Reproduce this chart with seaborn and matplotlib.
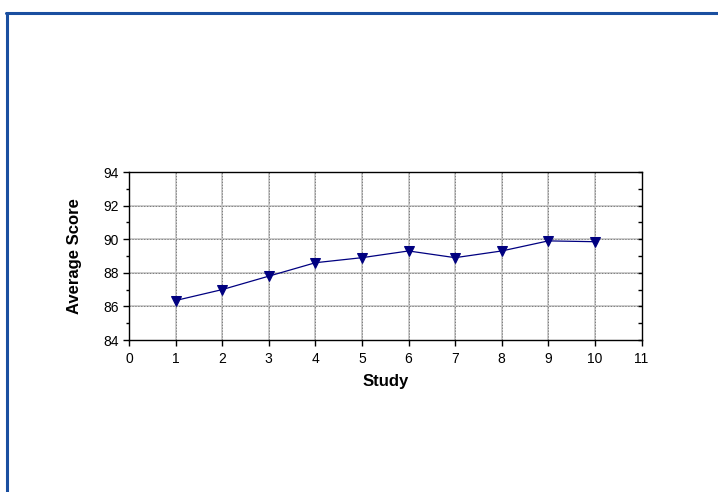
import matplotlib
matplotlib.use("Agg")
import pandas as pd
import seaborn as sns
import matplotlib.pyplot as plt
from matplotlib.lines import Line2D
from matplotlib.ticker import MultipleLocator

studies = [1, 2, 3, 4, 5, 6, 7, 8, 9, 10]
avg_score = [86.35, 87.0, 87.8, 88.6, 88.9, 89.3, 88.9, 89.3, 89.9, 89.85]

df = pd.DataFrame({"Study": studies, "Average Score": avg_score})

sns.set_style("white")
plt.rcParams['font.family'] = ['Liberation Sans', 'DejaVu Sans']
plt.rcParams['text.color'] = 'black'
plt.rcParams['axes.labelcolor'] = 'black'
plt.rcParams['xtick.color'] = 'black'
plt.rcParams['ytick.color'] = 'black'

fig = plt.figure(figsize=(7.18, 4.92), dpi=100)
rect = [129 / 718, 1 - 340 / 492, (641.5 - 129) / 718, (340 - 172) / 492]
ax = fig.add_axes(rect)

# gridlines: light solid with darker dotted overlay
ax.set_axisbelow(True)
for x in range(1, 11):
    ax.axvline(x, color='#c8c8c8', lw=1.3, zorder=0)
    ax.axvline(x, color='#707070', lw=0.6, ls=(0, (1.5, 2)), zorder=0)
for y in [86, 88, 90, 92]:
    ax.axhline(y, color='#c8c8c8', lw=1.3, zorder=0)
    ax.axhline(y, color='#707070', lw=0.6, ls=(0, (1.5, 2)), zorder=0)

sns.lineplot(data=df, x="Study", y="Average Score", ax=ax, color='#000080',
             lw=0.9, marker='v', markersize=7.5, markeredgecolor='#000080',
             markerfacecolor='#000080', zorder=3)

ax.set_xlim(0, 11)
ax.set_ylim(84, 94)
ax.xaxis.set_major_locator(MultipleLocator(1))
ax.yaxis.set_major_locator(MultipleLocator(2))
ax.yaxis.set_minor_locator(MultipleLocator(1))

for s in ax.spines.values():
    s.set_color('black')
    s.set_linewidth(1.0)

ax.tick_params(axis='both', which='both', labelsize=10)
ax.tick_params(axis='x', which='major', direction='out', length=4, width=1, bottom=True, pad=4.5)
ax.tick_params(axis='y', which='major', direction='out', length=4.5, width=1, left=True, pad=3)
ax.tick_params(axis='y', which='minor', direction='out', length=2.2, width=1, left=True)

# inward ticks on the right side
ax2 = ax.twinx()
ax2.set_ylim(84, 94)
ax2.yaxis.set_major_locator(MultipleLocator(1))
ax2.tick_params(axis='y', direction='in', length=3, width=1, right=True, labelright=False)
for s in ax2.spines.values():
    s.set_visible(False)

ax.set_xlabel("Study", fontsize=12, fontweight='bold', labelpad=6)
ax.set_ylabel("Average Score", fontsize=12, fontweight='bold', labelpad=15)

# blue frame at the top and left of the picture
fig.add_artist(Line2D([6.5 / 718, 6.5 / 718], [0, 1 - 12.5 / 492],
                      transform=fig.transFigure, color='#1a4fa0', lw=2.2))
fig.add_artist(Line2D([5.5 / 718, 1], [1 - 13 / 492, 1 - 13 / 492],
                      transform=fig.transFigure, color='#1a4fa0', lw=2.2))

fig.savefig("out.png", dpi=100)
